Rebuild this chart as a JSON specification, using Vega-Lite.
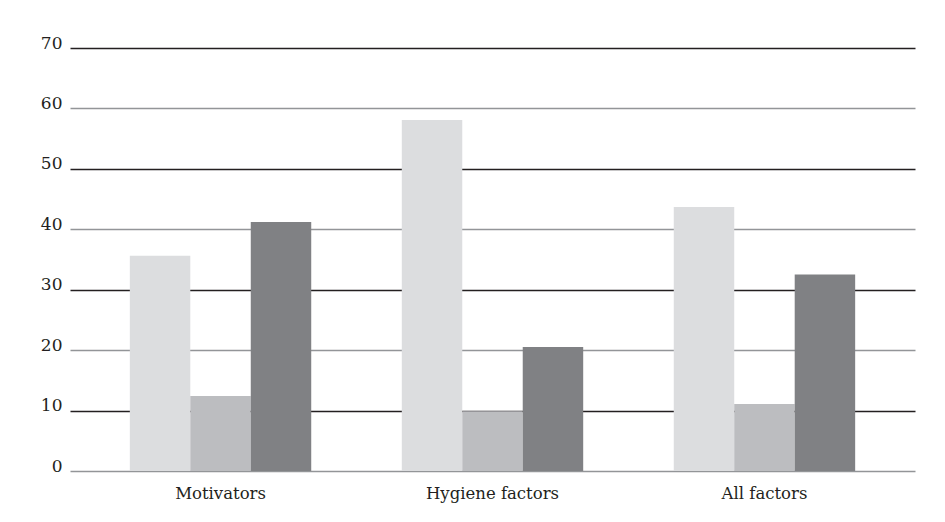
{
  "$schema": "https://vega.github.io/schema/vega-lite/v6.json",
  "width": 845,
  "height": 423,
  "autosize": {"type": "none"},
  "padding": {"left": 70, "top": 48, "right": 30, "bottom": 51},
  "background": "white",
  "data": {
    "values": [
      {"factor": "Motivators", "series": "Series 1", "value": 35.6},
      {"factor": "Motivators", "series": "Series 2", "value": 12.4},
      {"factor": "Motivators", "series": "Series 3", "value": 41.2},
      {"factor": "Hygiene factors", "series": "Series 1", "value": 58.1},
      {"factor": "Hygiene factors", "series": "Series 2", "value": 9.9},
      {"factor": "Hygiene factors", "series": "Series 3", "value": 20.5},
      {"factor": "All factors", "series": "Series 1", "value": 43.7},
      {"factor": "All factors", "series": "Series 2", "value": 11.1},
      {"factor": "All factors", "series": "Series 3", "value": 32.5}
    ]
  },
  "mark": {"type": "bar"},
  "encoding": {
    "x": {
      "field": "factor",
      "type": "nominal",
      "sort": ["Motivators", "Hygiene factors", "All factors"],
      "scale": {"paddingInner": 0.333, "paddingOuter": 0.22},
      "axis": {
        "title": null,
        "domain": false,
        "ticks": false,
        "labelAngle": 0,
        "labelPadding": 14,
        "labelFont": "DejaVu Serif",
        "labelFontSize": 16.5,
        "labelColor": "#231f20"
      }
    },
    "xOffset": {"field": "series", "type": "nominal", "scale": {"paddingInner": 0, "paddingOuter": 0}},
    "y": {
      "field": "value",
      "type": "quantitative",
      "scale": {"domain": [0, 70], "nice": false},
      "axis": {
        "title": null,
        "values": [0, 10, 20, 30, 40, 50, 60, 70],
        "domain": false,
        "ticks": false,
        "grid": true,
        "gridWidth": 1.3,
        "gridColor": {"condition": {"test": "datum.value % 20 === 0", "value": "#939598"}, "value": "#231f20"},
        "labelPadding": 8,
        "labelBaseline": "alphabetic",
        "labelFont": "DejaVu Serif",
        "labelFontSize": 17,
        "labelColor": "#231f20"
      }
    },
    "color": {
      "field": "series",
      "type": "nominal",
      "scale": {"domain": ["Series 1", "Series 2", "Series 3"], "range": ["#dcdddf", "#bcbdc0", "#808184"]},
      "legend": null
    }
  },
  "config": {"view": {"stroke": null}}
}
